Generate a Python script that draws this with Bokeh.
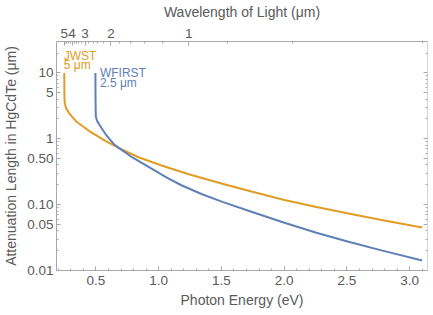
from bokeh.plotting import figure
from bokeh.models import LogAxis, LinearAxis, FixedTicker, Range1d, Label, CustomJSTickFormatter
from bokeh.embed import file_html
from bokeh.resources import INLINE

# ---- data ----
jwst_energy_ev = [0.248, 0.2485, 0.249, 0.250, 0.252, 0.262, 0.285, 0.341, 0.447, 0.579, 0.685,
                  0.844, 1.029, 1.24, 1.373, 1.508, 1.739, 2.002, 2.257, 2.512, 2.775, 3.1]
jwst_length_um = [10.0, 7.0, 5.0, 4.0, 3.5, 2.92, 2.46, 1.85, 1.31, 0.92, 0.72,
                  0.52, 0.39, 0.29, 0.245, 0.207, 0.158, 0.118, 0.0923, 0.0733, 0.0586, 0.0451]

wfirst_energy_ev = [0.496, 0.4965, 0.497, 0.499, 0.508, 0.526, 0.579, 0.645, 0.685, 0.791,
                    0.923, 1.069, 1.181, 1.341, 1.508, 1.739, 2.002, 2.257, 2.512, 2.775, 3.1]
wfirst_length_um = [10.0, 6.0, 4.0, 2.2, 1.89, 1.65, 1.16, 0.82, 0.72, 0.52,
                    0.37, 0.255, 0.197, 0.145, 0.110, 0.078, 0.0532, 0.0375, 0.0274, 0.0202, 0.0142]

energy_major_ticks = [0.5, 1.0, 1.5, 2.0, 2.5, 3.0]
energy_tick_labels = ["0.5", "1.0", "1.5", "2.0", "2.5", "3.0"]
energy_minor_ticks = [0.2, 0.3, 0.4, 0.6, 0.7, 0.8, 0.9, 1.1, 1.2, 1.3, 1.4, 1.6, 1.7, 1.8, 1.9,
                      2.1, 2.2, 2.3, 2.4, 2.6, 2.7, 2.8, 2.9, 3.1]

length_major_ticks = [0.01, 0.05, 0.1, 0.5, 1, 5, 10]
length_tick_labels = ["0.01", "0.05", "0.10", "0.50", "1", "5", "10"]
length_minor_ticks = [0.02, 0.03, 0.04, 0.06, 0.07, 0.08, 0.09, 0.2, 0.3, 0.4, 0.6, 0.7, 0.8, 0.9,
                      2, 3, 4, 6, 7, 8, 9, 20]

wavelength_major_ticks = [5, 4, 3, 2, 1]
wavelength_tick_labels = ["5", "4", "3", "2", "1"]
wavelength_minor_ticks = [0.4, 0.6, 0.8, 1.2, 1.4, 1.6, 1.8, 2.2, 2.4, 2.6, 2.8,
                          3.2, 3.4, 3.6, 3.8, 4.2, 4.4, 4.6, 4.8]
HC_EV_UM = 1.23984  # photon energy (eV) * wavelength (um)

X_START, X_END = 0.186, 3.142
Y_START, Y_END = 0.01, 30

BLUE = "#5E81B5"
ORANGE = "#E19C24"
FRAME = "#a8a8a8"
TXT = "#5a5a5a"
FONT = "Liberation Sans"

p = figure(width=433, height=315, x_range=Range1d(X_START, X_END), y_range=Range1d(Y_START, Y_END),
           y_axis_type="log", x_axis_location=None, y_axis_location=None,
           output_backend="svg", toolbar_location=None,
           min_border_left=55, min_border_right=6, min_border_top=40, min_border_bottom=45)
p.outline_line_color = None
for g in p.grid:
    g.visible = False
p.background_fill_color = "white"


def style(ax):
    ax.axis_line_color = FRAME
    ax.major_tick_line_color = FRAME
    ax.minor_tick_line_color = FRAME
    ax.major_tick_in = 4
    ax.major_tick_out = 0
    ax.minor_tick_in = 2
    ax.minor_tick_out = 0
    ax.major_label_text_color = TXT
    ax.major_label_text_font = FONT
    ax.major_label_text_font_size = "13.5px"
    ax.axis_label_text_color = TXT
    ax.axis_label_text_font = FONT
    ax.axis_label_text_font_size = "14px"
    ax.axis_label_text_font_style = "normal"


label_code = "const i = tick_vals.indexOf(tick); return i >= 0 ? tick_labels[i] : '';"


def fmt(vals, labels):
    return CustomJSTickFormatter(args=dict(tick_vals=list(vals), tick_labels=list(labels)), code=label_code)


left = LogAxis(ticker=FixedTicker(ticks=length_major_ticks, minor_ticks=length_minor_ticks),
               formatter=fmt(length_major_ticks, length_tick_labels),
               axis_label="Attenuation Length in HgCdTe (μm)")
style(left)
left.major_label_standoff = 3
left.axis_label_standoff = 5
p.add_layout(left, "left")

right = LogAxis(ticker=FixedTicker(ticks=length_major_ticks, minor_ticks=length_minor_ticks),
                formatter=CustomJSTickFormatter(code="return '';"), fixed_location=X_END)
style(right)
right.major_label_standoff = 0
right.axis_label_standoff = 0
p.add_layout(right, "right")

bottom = LinearAxis(ticker=FixedTicker(ticks=energy_major_ticks, minor_ticks=energy_minor_ticks),
                    formatter=fmt(energy_major_ticks, energy_tick_labels),
                    axis_label="Photon Energy (eV)")
style(bottom)
bottom.major_label_standoff = 5
bottom.axis_label_standoff = 4
p.add_layout(bottom, "below")

top_major = [HC_EV_UM / w for w in wavelength_major_ticks]
top_minor = [HC_EV_UM / w for w in wavelength_minor_ticks]
top = LinearAxis(ticker=FixedTicker(ticks=top_major, minor_ticks=top_minor),
                 formatter=fmt(top_major, wavelength_tick_labels),
                 axis_label="Wavelength of Light (μm)")
style(top)
top.major_label_standoff = 4
top.axis_label_standoff = 6
p.add_layout(top, "above")

p.line(jwst_energy_ev, jwst_length_um, line_color=ORANGE, line_width=2)
p.line(wfirst_energy_ev, wfirst_length_um, line_color=BLUE, line_width=2)

for x, y, t, c in [(0.244, 18.3, "JWST", ORANGE), (0.244, 13.1, "5 μm", ORANGE),
                   (0.532, 9.9, "WFIRST", BLUE), (0.532, 7.0, "2.5 μm", BLUE)]:
    p.add_layout(Label(x=x, y=y, text=t, text_color=c, text_font=FONT, text_font_size="12px",
                       text_align="left", text_baseline="alphabetic"))

open("out.html", "w").write(file_html(p, INLINE))
